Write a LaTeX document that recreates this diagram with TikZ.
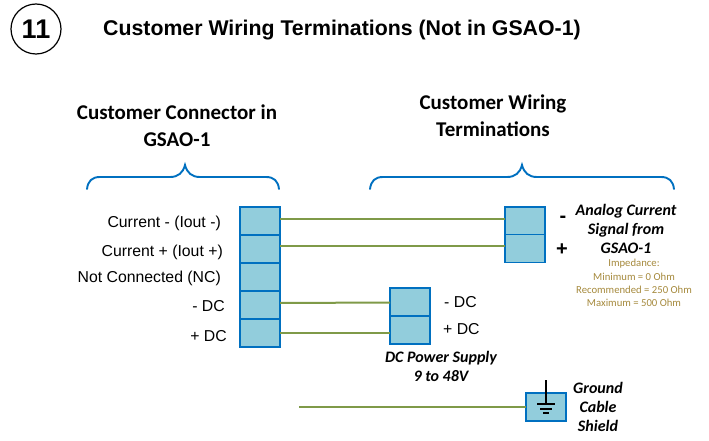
\documentclass[tikz,border=0pt]{standalone}
\usepackage{fontspec}
\setmainfont{Liberation Sans}
\newfontfamily\calib{Carlito}
\definecolor{bluel}{HTML}{0070C0}
\definecolor{fillb}{HTML}{92CDDC}
\definecolor{wire}{HTML}{7F9A48}
\definecolor{gold}{HTML}{A5893C}
\tikzset{
 term/.style={draw=bluel,fill=fillb,line width=1.5pt,minimum width=40pt,minimum height=28pt,inner sep=0,outer sep=0,anchor=north west},
 wirel/.style={draw=wire,line width=2pt},
 brace/.style={draw=bluel,line width=1.9pt,line cap=round},
 lab/.style={inner sep=0,font=\fontsize{15.8}{18}\selectfont},
 head/.style={inner sep=0,align=center,font=\calib\bfseries\fontsize{21}{27}\selectfont},
 ital/.style={inner sep=0,align=center,font=\calib\bfseries\itshape\fontsize{16}{19}\selectfont},
 imp/.style={inner sep=0,align=center,text=gold,font=\calib\fontsize{10.7}{13.2}\selectfont},
}
\begin{document}
\begin{tikzpicture}[x=1pt,y=-1pt]
\useasboundingbox (0,0) rectangle (709,441);
\node[draw=black,circle,line width=1.2pt,minimum size=50pt,inner sep=0,font=\bfseries\fontsize{27}{30}\selectfont] (num) at (36,29) {11};
\node[inner sep=0,anchor=west,font=\bfseries\fontsize{21.3}{24}\selectfont] (title) at (103,30) {Customer Wiring Terminations (Not in GSAO-1)};
\node[head] (hl) at (177,126) {Customer Connector in\\GSAO-1};
\node[head] (hr) at (493,116) {Customer Wiring\\Terminations};
% braces
\draw[brace] (87,189) .. controls (88,181) and (92,177) .. (100,177) -- (170,177) .. controls (178,177) and (183,173) .. (185,165) .. controls (187,173) and (192,177) .. (200,177) -- (266,177) .. controls (274,177) and (278,181) .. (279,189);
\draw[brace] (370,189) .. controls (371,181) and (375,177) .. (383,177) -- (507,177) .. controls (515,177) and (520,173) .. (522,165) .. controls (524,173) and (529,177) .. (537,177) -- (661,177) .. controls (669,177) and (673,181) .. (674,189);
% left connector
\node[term] (l1) at (240,207) {};
\node[term] (l2) at (240,235) {};
\node[term] (l3) at (240,263) {};
\node[term] (l4) at (240,291) {};
\node[term] (l5) at (240,319) {};
% analog
\node[term] (a1) at (505,207) {};
\node[term] (a2) at (505,234.5) {};
% dc
\node[term] (d1) at (390,288) {};
\node[term] (d2) at (390,316) {};
% ground
\node[term] (g) at (526,393) {};
\coordinate (gs) at (299,407);
\coordinate (gt) at (546,380);
% wires
\draw[wirel] ([yshift=2pt]l1.east) -- ([yshift=2pt]a1.west);
\draw[wirel] ([yshift=3pt]l2.east) -- ([yshift=2.5pt]a2.west);
\draw[wirel] ([yshift=2pt]l4.east) -- ([yshift=-.5pt]d1.west);
\draw[wirel] (l5.east) -- ([yshift=-3pt]d2.west);
\draw[wirel] (gs) -- (g.west);
% ground symbol
\coordinate (g1) at (546,404);
\draw[black,line width=1.2pt] (gt) -- (g1);
\draw[black,line width=1.2pt] (537,404) -- (555,404);
\draw[black,line width=1.2pt] (540,409) -- (552,409);
\draw[black,line width=1.2pt] (543,413) -- (549,413);
% left labels
\node[lab,anchor=east] (t1) at (221,223) {Current - (Iout -)};
\node[lab,anchor=east] (t2) at (223,252) {Current + (Iout +)};
\node[lab,anchor=east] (t3) at (221,278) {Not Connected (NC)};
\node[lab,anchor=east] (t4) at (225,306) {- DC};
\node[lab,anchor=east] (t5) at (227,336) {+ DC};
% dc labels
\node[lab,anchor=west] (t6) at (444,302) {- DC};
\node[lab,anchor=west] (t7) at (443,329) {+ DC};
\node[inner sep=0,font=\bfseries\fontsize{20}{22}\selectfont] (minus) at (563,219) {-};
\node[inner sep=0,font=\bfseries\fontsize{20}{22}\selectfont] (plus) at (562,250) {+};
\node[ital] (ac) at (626,229) {Analog Current\\Signal from\\GSAO-1};
\node[imp] (impd) at (634,283) {Impedance:\\Minimum = 0 Ohm\\Recommended = 250 Ohm\\Maximum = 500 Ohm};
\node[ital] (dcp) at (441,366) {DC Power Supply\\9 to 48V};
\node[ital] (gc) at (598,407) {Ground\\Cable\\Shield};
\end{tikzpicture}
\end{document}
